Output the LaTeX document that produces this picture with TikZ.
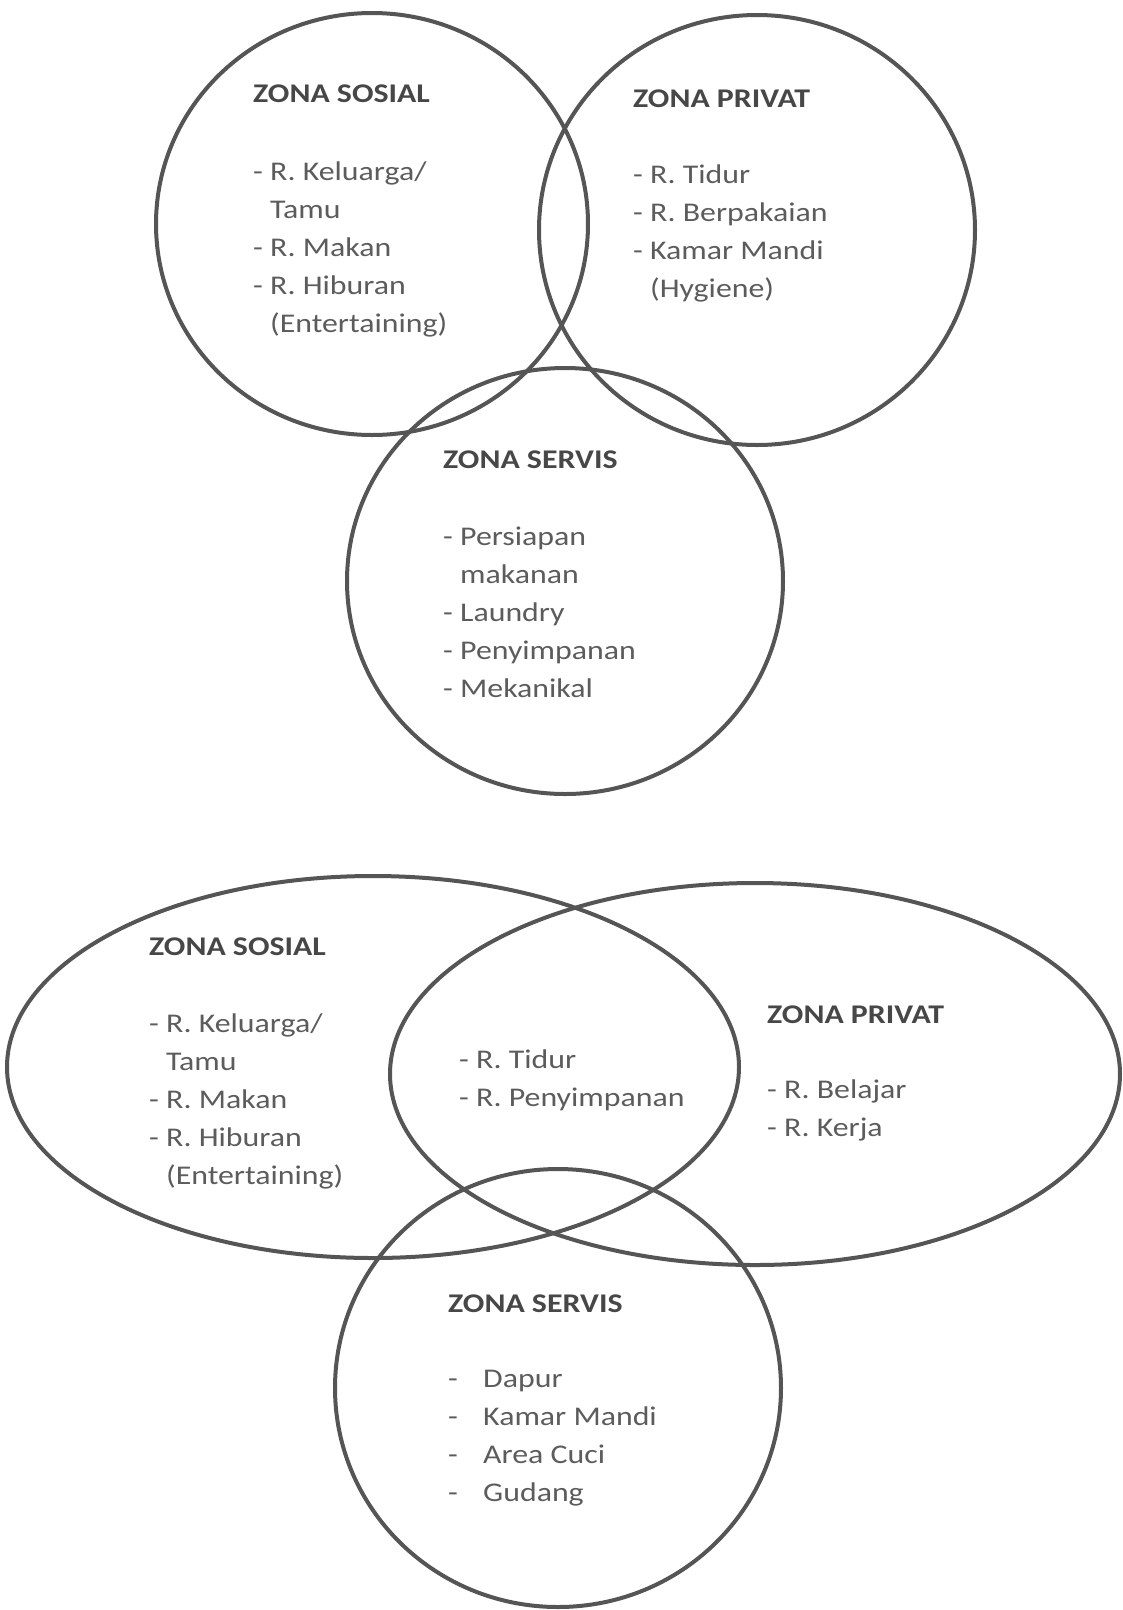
\documentclass[tikz,border=0pt]{standalone}
\usepackage{fontspec}
\setmainfont{Carlito}[FakeStretch=1.18]
\definecolor{zoneline}{HTML}{555555}
\definecolor{zonetext}{HTML}{5C5C5C}
\definecolor{zonehead}{HTML}{474747}
\tikzset{zone/.style = {draw=zoneline, line width=4pt},
         zonehead/.style = {anchor=base west, inner sep=0pt, text=zonehead,
                            font=\fontsize{27}{38}\selectfont\bfseries},
         zoneitem/.style = {anchor=base west, inner sep=0pt, text=zonetext,
                            font=\fontsize{27}{38}\selectfont}}

\begin{document}
\begin{tikzpicture}[x=1pt, y=-1pt]
    \useasboundingbox (0, 0) rectangle (1123, 1610);
    % upper diagram
    \draw [zone] (372, 224) ellipse (216pt and 211pt);
    \draw [zone] (757, 230) ellipse (218pt and 215pt);
    \draw [zone] (565, 581) ellipse (218pt and 213pt);
    \node (sosA) [zonehead] at (253, 102) {ZONA SOSIAL};
    \foreach \line [count=\i] in {{- R. Keluarga/}, {\phantom{- }Tamu}, {- R. Makan},
                                  {- R. Hiburan}, {\phantom{- }(Entertaining)}}
      \node (sosA-\i) [zoneitem] at (253, {142 + 38*\i}) {\line};
    \node (priA) [zonehead] at (633, 107) {ZONA PRIVAT};
    \foreach \line [count=\i] in {{- R. Tidur}, {- R. Berpakaian}, {- Kamar Mandi},
                                  {\phantom{- }(Hygiene)}}
      \node (priA-\i) [zoneitem] at (633, {145 + 38*\i}) {\line};
    \node (serA) [zonehead] at (443, 468) {ZONA SERVIS};
    \foreach \line [count=\i] in {{- Persiapan}, {\phantom{- }makanan}, {- Laundry},
                                  {- Penyimpanan}, {- Mekanikal}}
      \node (serA-\i) [zoneitem] at (443, {507 + 38*\i}) {\line};
    % lower diagram
    \draw [zone] (373, 1067) ellipse (366pt and 191pt);
    \draw [zone] (755, 1074) ellipse (365pt and 191pt);
    \draw [zone] (558, 1388) ellipse (223pt and 219pt);
    \node (sosB) [zonehead] at (149, 955) {ZONA SOSIAL};
    \foreach \line [count=\i] in {{- R. Keluarga/}, {\phantom{- }Tamu}, {- R. Makan},
                                  {- R. Hiburan}, {\phantom{- }(Entertaining)}}
      \node (sosB-\i) [zoneitem] at (149, {994 + 38*\i}) {\line};
    \foreach \line [count=\i] in {{- R. Tidur}, {- R. Penyimpanan}}
      \node (mid-\i) [zoneitem] at (459, {1030 + 38*\i}) {\line};
    \node (priB) [zonehead] at (767, 1023) {ZONA PRIVAT};
    \foreach \line [count=\i] in {{- R. Belajar}, {- R. Kerja}}
      \node (priB-\i) [zoneitem] at (767, {1060 + 38*\i}) {\line};
    \node (serB) [zonehead] at (448, 1312) {ZONA SERVIS};
    \foreach \line [count=\i] in {Dapur, Kamar Mandi, Area Cuci, Gudang} {
      \node (serB-d\i) [zoneitem] at (448, {1349 + 38*\i}) {-};
      \node (serB-\i) [zoneitem] at (483, {1349 + 38*\i}) {\line};
    }
\end{tikzpicture}
\end{document}
